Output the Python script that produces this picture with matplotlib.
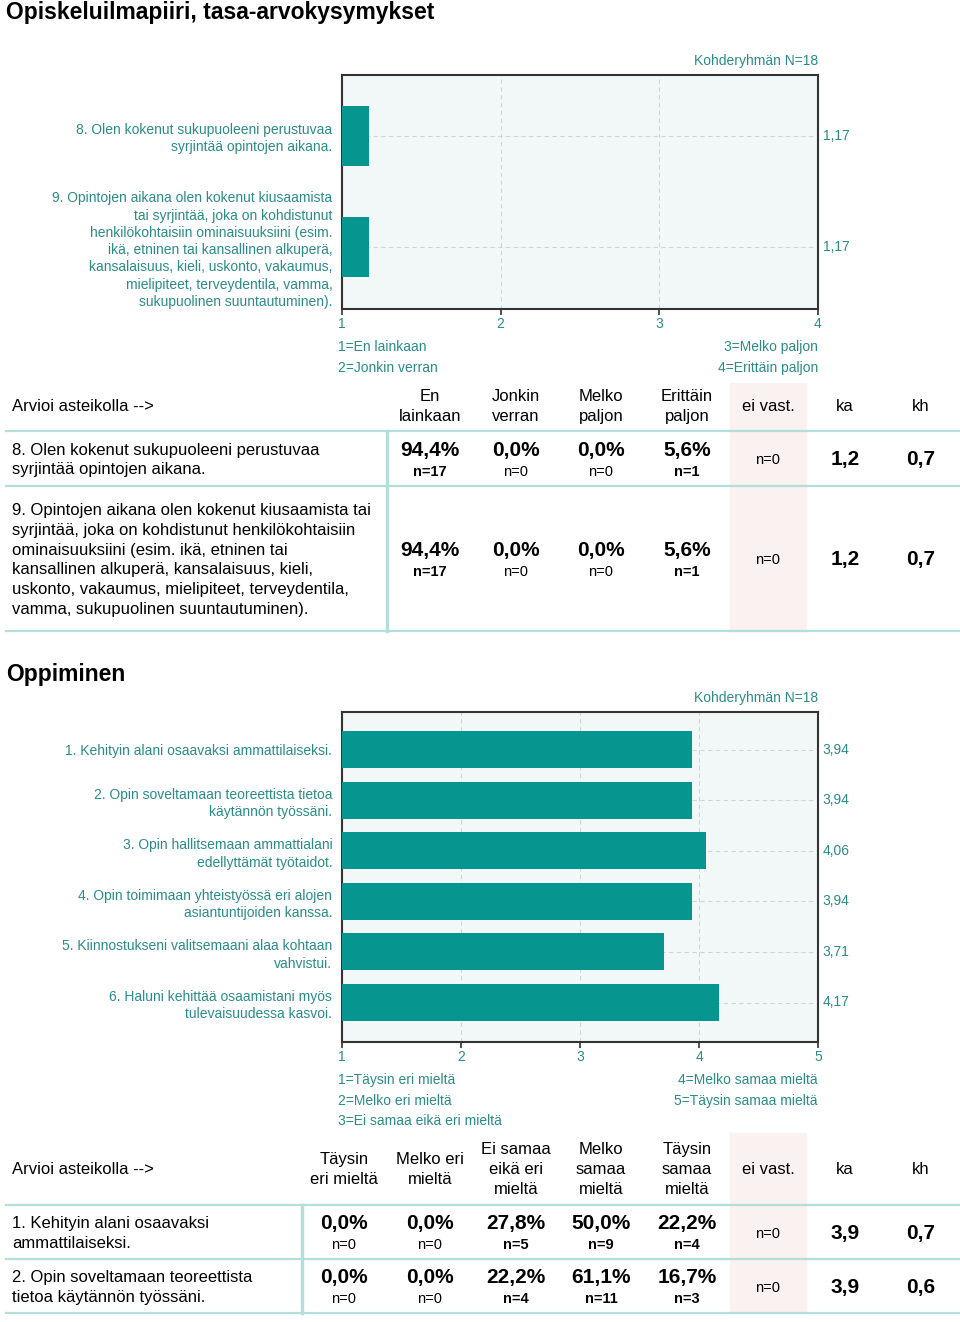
import matplotlib
matplotlib.use('Agg')
import matplotlib.pyplot as plt
from matplotlib.patches import Rectangle

plt.rcParams['font.family'] = ['Liberation Sans', 'DejaVu Sans']

# ---- data: section 1 (tasa-arvokysymykset) ----
s1_labels = [
    "8. Olen kokenut sukupuoleeni perustuvaa\nsyrjintää opintojen aikana.",
    "9. Opintojen aikana olen kokenut kiusaamista\ntai syrjintää, joka on kohdistunut\n"
    "henkilökohtaisiin ominaisuuksiini (esim.\nikä, etninen tai kansallinen alkuperä,\n"
    "kansalaisuus, kieli, uskonto, vakaumus,\nmielipiteet, terveydentila, vamma,\n"
    "sukupuolinen suuntautuminen).",
]
s1_means = [1.17, 1.17]
s1_ticks = [1, 2, 3, 4]
s1_scale_left = ["1=En lainkaan", "2=Jonkin verran"]
s1_scale_right = ["3=Melko paljon", "4=Erittäin paljon"]
s1_headers = ["En\nlainkaan", "Jonkin\nverran", "Melko\npaljon", "Erittäin\npaljon"]
s1_questions = [
    "8. Olen kokenut sukupuoleeni perustuvaa\nsyrjintää opintojen aikana.",
    "9. Opintojen aikana olen kokenut kiusaamista tai\nsyrjintää, joka on kohdistunut henkilökohtaisiin\n"
    "ominaisuuksiini (esim. ikä, etninen tai\nkansallinen alkuperä, kansalaisuus, kieli,\n"
    "uskonto, vakaumus, mielipiteet, terveydentila,\nvamma, sukupuolinen suuntautuminen).",
]
s1_pct = [[94.4, 0.0, 0.0, 5.6], [94.4, 0.0, 0.0, 5.6]]
s1_n = [[17, 0, 0, 1], [17, 0, 0, 1]]
s1_missing = [0, 0]
s1_ka = [1.2, 1.2]
s1_kh = [0.7, 0.7]

# ---- data: section 2 (Oppiminen) ----
s2_labels = [
    "1. Kehityin alani osaavaksi ammattilaiseksi.",
    "2. Opin soveltamaan teoreettista tietoa\nkäytännön työssäni.",
    "3. Opin hallitsemaan ammattialani\nedellyttämät työtaidot.",
    "4. Opin toimimaan yhteistyössä eri alojen\nasiantuntijoiden kanssa.",
    "5. Kiinnostukseni valitsemaani alaa kohtaan\nvahvistui.",
    "6. Haluni kehittää osaamistani myös\ntulevaisuudessa kasvoi.",
]
s2_means = [3.94, 3.94, 4.06, 3.94, 3.71, 4.17]
s2_ticks = [1, 2, 3, 4, 5]
s2_scale_left = ["1=Täysin eri mieltä", "2=Melko eri mieltä", "3=Ei samaa eikä eri mieltä"]
s2_scale_right = ["4=Melko samaa mieltä", "5=Täysin samaa mieltä"]
s2_headers = ["Täysin\neri mieltä", "Melko eri\nmieltä", "Ei samaa\neikä eri\nmieltä",
              "Melko\nsamaa\nmieltä", "Täysin\nsamaa\nmieltä"]
s2_questions = [
    "1. Kehityin alani osaavaksi\nammattilaiseksi.",
    "2. Opin soveltamaan teoreettista\ntietoa käytännön työssäni.",
]
s2_pct = [[0.0, 0.0, 27.8, 50.0, 22.2], [0.0, 0.0, 22.2, 61.1, 16.7]]
s2_n = [[0, 0, 5, 9, 4], [0, 0, 4, 11, 3]]
s2_missing = [0, 0]
s2_ka = [3.9, 3.9]
s2_kh = [0.7, 0.6]

N_TARGET = "Kohderyhmän N=18"

TEAL_TXT = '#2a8c87'
BAR = '#07968f'
BG = '#f2f8f8'
LINE = '#b2dedb'
PINK = '#faf1f1'
W, H = 960, 1322
DY = 1.5  # va='center' sits a bit high, nudge table text down


def fmt(v, d=1):
    return f"{v:.{d}f}".replace('.', ',')


fig = plt.figure(figsize=(W / 100, H / 100), dpi=100)
page = fig.add_axes([0, 0, 1, 1])
page.set_xlim(0, W)
page.set_ylim(H, 0)
page.axis('off')


def px_axes(left, top, right, bottom):
    return fig.add_axes([left / W, 1 - bottom / H, (right - left) / W, (bottom - top) / H])


def bar_chart(box, labels, means, ticks, first_top, step, bar_h,
              scale_left, scale_right):
    left, top, right, bottom = box
    ax = px_axes(*box)
    ax.set_facecolor(BG)
    pos = list(range(len(means)))
    ax.barh(pos, [m - ticks[0] for m in means], left=ticks[0], height=bar_h,
            color=BAR, zorder=3)
    ax.set_xlim(ticks[0], ticks[-1])
    y_top = -(first_top - top) / step
    y_bot = (len(means) - 1) + (bottom - (first_top + step * (len(means) - 1))) / step
    ax.set_ylim(y_bot, y_top)
    ax.set_yticks(pos)
    ax.set_yticklabels(labels, color=TEAL_TXT, fontsize=10, linespacing=1.3)
    ax.set_xticks(ticks)
    ax.set_xticklabels([str(t) for t in ticks], color=TEAL_TXT, fontsize=10)
    ax.tick_params(axis='y', length=0, pad=7)
    ax.tick_params(axis='x', length=4, width=1.2, color='#333333', pad=2)
    ax.grid(True, linestyle=(0, (4, 3)), color='#cfd4d4', linewidth=0.8)
    ax.set_axisbelow(True)
    for s in ax.spines.values():
        s.set_color('#333333')
        s.set_linewidth(1.5)
    for i, m in enumerate(means):
        ax.text(1.01, i, fmt(m, 2), transform=ax.get_yaxis_transform(),
                va='center', ha='left', color=TEAL_TXT, fontsize=10)
    page.text(right, top - 14, N_TARGET, ha='right', va='center', color=TEAL_TXT, fontsize=10)
    for k, t in enumerate(scale_left):
        page.text(left - 4, bottom + 38 + 20.7 * k, t, ha='left', va='center',
                  color=TEAL_TXT, fontsize=10)
    for k, t in enumerate(scale_right):
        page.text(right, bottom + 38 + 20.7 * k, t, ha='right', va='center',
                  color=TEAL_TXT, fontsize=10)
    return ax


def multiline(x, yc, text, step, ha='center', **kw):
    lines = text.split('\n')
    y0 = yc - step * (len(lines) - 1) / 2
    for k, ln in enumerate(lines):
        page.text(x, y0 + k * step + DY, ln, ha=ha, va='center', **kw)


def table(head_y, header_top, col_x, headers, row_lines, vline_x, questions,
          pct, ns, missing, ka, kh):
    miss_x, ka_x, kh_x = 768, 845, 921
    page.add_patch(Rectangle((730, header_top), 76, row_lines[-1] - header_top,
                             color=PINK, zorder=0))
    page.text(12, head_y + DY, "Arvioi asteikolla -->", ha='left', va='center', fontsize=12)
    for x, h in zip(col_x, headers):
        multiline(x, head_y, h, 19.8, fontsize=12)
    multiline(miss_x, head_y, "ei vast.", 19.8, fontsize=12)
    multiline(ka_x, head_y, "ka", 19.8, fontsize=12)
    multiline(kh_x, head_y, "kh", 19.8, fontsize=12)
    for y in row_lines:
        page.plot([6, W], [y, y], color=LINE, lw=1.6, zorder=1)
    page.plot([vline_x, vline_x], [row_lines[0], row_lines[-1]], color=LINE, lw=2.4, zorder=1)
    for r in range(len(questions)):
        yc = (row_lines[r] + row_lines[r + 1]) / 2
        multiline(12, yc, questions[r], 19.8, ha='left', fontsize=12)
        for x, p, n in zip(col_x, pct[r], ns[r]):
            page.text(x, yc - 9.5 + DY, fmt(p) + '%', ha='center', va='center',
                      fontsize=15, fontweight='bold')
            page.text(x, yc + 11.5 + DY, f"n={n}", ha='center', va='center', fontsize=10.5,
                      fontweight='bold' if n > 0 else 'normal')
        page.text(miss_x, yc + DY, f"n={missing[r]}", ha='center', va='center', fontsize=10.5)
        page.text(ka_x, yc + DY, fmt(ka[r]), ha='center', va='center', fontsize=15,
                  fontweight='bold')
        page.text(kh_x, yc + DY, fmt(kh[r]), ha='center', va='center', fontsize=15,
                  fontweight='bold')


page.text(6, 13, "Opiskeluilmapiiri, tasa-arvokysymykset", ha='left', va='center',
          fontsize=16.5, fontweight='bold')

bar_chart((342, 75, 818, 309), s1_labels, s1_means, s1_ticks,
          first_top=135.5, step=111.5, bar_h=60 / 111.5,
          scale_left=s1_scale_left, scale_right=s1_scale_right)

table(405, 383, [430, 516, 601, 687], s1_headers, [431, 486, 631], 387,
      s1_questions, s1_pct, s1_n, s1_missing, s1_ka, s1_kh)

page.text(6, 675, "Oppiminen", ha='left', va='center', fontsize=16.5, fontweight='bold')

bar_chart((342, 712, 818, 1042), s2_labels, s2_means, s2_ticks,
          first_top=749.5, step=50.6, bar_h=37 / 50.6,
          scale_left=s2_scale_left, scale_right=s2_scale_right)

table(1168, 1133, [344, 430, 516, 601, 687], s2_headers, [1205, 1259, 1313], 302,
      s2_questions, s2_pct, s2_n, s2_missing, s2_ka, s2_kh)

fig.savefig('out.png', dpi=100)
